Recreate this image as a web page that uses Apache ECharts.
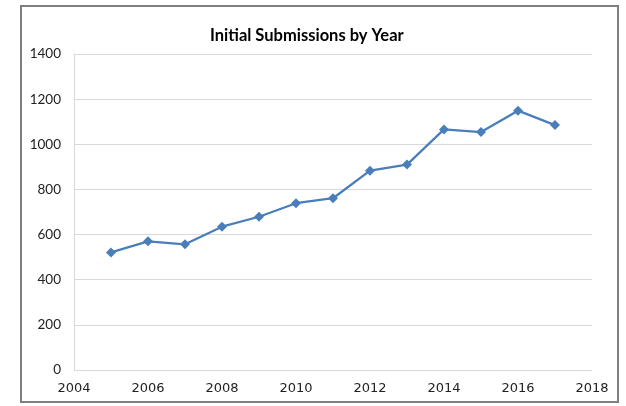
<!DOCTYPE html>
<html>
<head>
<meta charset="utf-8">
<script src="https://cdn.jsdelivr.net/npm/echarts@6/dist/echarts.min.js"></script>
<style>
html,body{margin:0;padding:0;background:#fff;}
#chart{width:626px;height:406px;}
</style>
</head>
<body>
<div id="chart"></div>
<script>
const years = [2005, 2006, 2007, 2008, 2009, 2010, 2011, 2012, 2013, 2014, 2015, 2016, 2017];
const submissions = [521, 570, 557, 635, 679, 739, 761, 883, 910, 1066, 1054, 1149, 1085];
const titleText = 'Initial Submissions by Year';

const chart = echarts.init(document.getElementById('chart'), null, {renderer: 'canvas'});
chart.setOption({
  animation: false,
  backgroundColor: '#ffffff',
  title: {
    text: titleText,
    left: 205,
    top: 22,
    textStyle: {fontFamily: 'Lato', fontWeight: 'bold', fontSize: 16.5, color: '#000000'}
  },
  graphic: [{
    type: 'rect',
    shape: {x: 21, y: 6, width: 597, height: 396},
    style: {fill: 'none', stroke: '#7f7f7f', lineWidth: 2},
    silent: true
  }],
  grid: {left: 74, right: 34, top: 54, bottom: 36, containLabel: false},
  xAxis: {
    type: 'value',
    min: 2004,
    max: 2018,
    interval: 2,
    axisLine: {show: false},
    axisTick: {show: false},
    splitLine: {show: false},
    axisLabel: {
      margin: 12,
      fontFamily: 'DejaVu Sans',
      fontSize: 13,
      color: '#222222',
      formatter: v => String(v)
    }
  },
  yAxis: {
    type: 'value',
    min: 0,
    max: 1400,
    interval: 200,
    axisLine: {show: true, lineStyle: {color: '#d9d9d9', width: 1}},
    axisTick: {show: false},
    splitLine: {show: true, lineStyle: {color: '#d9d9d9', width: 1}},
    axisLabel: {
      margin: 13,
      fontFamily: 'Lato',
      fontSize: 13.5,
      color: '#222222',
      formatter: v => String(v)
    }
  },
  series: [{
    type: 'line',
    data: years.map((y, i) => [y, submissions[i]]),
    symbol: 'diamond',
    symbolSize: 10,
    lineStyle: {color: '#4a7ebb', width: 2.25},
    itemStyle: {color: '#4a7ebb'}
  }]
});
</script>
</body>
</html>
